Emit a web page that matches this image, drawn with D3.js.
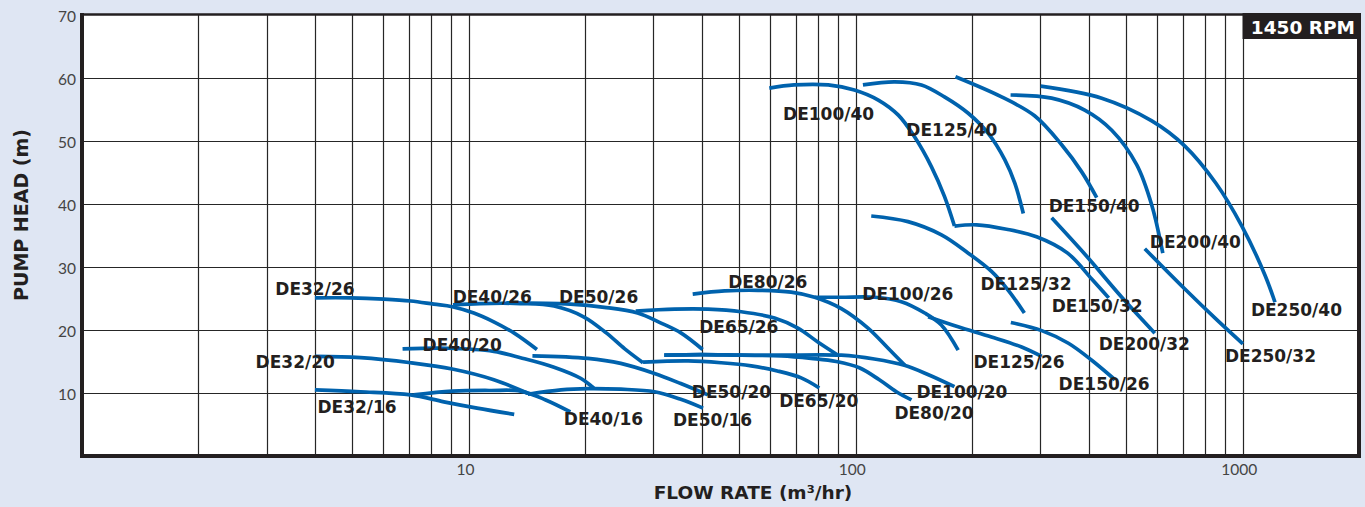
<!DOCTYPE html>
<html><head><meta charset="utf-8">
<script src="https://cdn.jsdelivr.net/npm/d3@7"></script>
<style>
html,body{margin:0;padding:0;background:#dfe6f3;}
svg{display:block;}
</style></head>
<body><svg id="chart" width="1365" height="507"></svg>
<script>
// ---------- DATA (flow m3/hr, head m) ----------
const xTickLabels = [10, 100, 1000];
const yTickLabels = [10, 20, 30, 40, 50, 60, 70];
const xGridFlows = [2,3,4,5,6,7,8,9,10,20,30,40,50,60,70,80,90,100,200,300,400,500,600,700,800,900,1000];
const yGridHeads = [10, 20, 30, 40, 50, 60];

const DE32_16 = [[4.0,10.5],[5.25,10.2],[7.07,9.7],[8.62,8.6],[10.5,7.6],[13.1,6.6]];
const DE32_20 = [[4.0,15.8],[5.25,15.6],[7.07,14.8],[9.06,13.8],[11.6,12.1],[14.2,9.95]];
const DE32_26 = [[4.0,25.1],[4.94,25.1],[6.03,24.9],[7.07,24.6],[8.12,24.1],[9.06,23.7],[10.3,22.7],[11.6,21.3],[13.1,19.5],[15.0,16.9]];
const DE40_16 = [[7.2,9.7],[9.06,10.3],[11.4,10.4],[13.6,10.3],[15.8,8.9],[18.3,7.0]];
const DE40_20 = [[6.74,17.0],[8.8,17.1],[11.6,16.6],[13.6,15.6],[16.6,14.1],[19.5,12.3],[21.1,10.7]];
const DE40_26 = [[9.1,24.0],[10.7,24.2],[13.6,24.2],[16.6,23.8],[19.8,22.1],[22.7,19.5],[25.3,17.0],[28.2,14.8]];
const DE50_16 = [[14.2,9.8],[17.3,10.5],[20.3,10.7],[24.7,10.6],[30.2,10.2],[35.3,9.0],[40.3,7.6]];
const DE50_20 = [[14.6,15.9],[20.3,15.5],[24.7,14.7],[30.2,13.1],[35.3,11.5],[41.5,9.7]];
const DE50_26 = [[12.5,24.3],[18.3,24.1],[22.4,23.6],[27.3,22.7],[31.4,21.1],[35.4,19.5],[40.2,16.9]];
const DE65_20 = [[28.2,14.9],[36.9,15.1],[44.9,14.8],[53.7,14.3],[62.7,13.5],[72.3,12.4],[80.5,10.8]];
const DE65_26 = [[27.0,23.0],[34.0,23.3],[41.5,23.3],[50.6,22.9],[61.7,21.9],[70.9,20.3],[79.8,18.1],[90.0,16.0]];
const DE80_20 = [[32,16.0],[39.8,16.1],[50.6,16.0],[64.2,15.9],[76.7,15.5],[89.1,15.0],[102.2,14.0],[115.1,12.1],[127.4,10.2],[139.4,8.9]];
const DE80_26 = [[37.9,25.7],[45.8,26.2],[55.9,26.3],[68.1,26.0],[78.3,25.2],[91.8,23.4],[107.6,20.3],[121.3,17.1],[134,14.4]];
const DE100_20 = [[32,16.0],[39.8,16.1],[50.6,16.0],[64.2,16.0],[91.8,16.0],[111.7,15.4],[133.6,14.4],[154.2,12.9],[180,11.0]];
const DE100_26 = [[78.3,25.2],[91.8,25.2],[111.9,25.2],[131.2,24.5],[150.8,22.7],[166.5,20.8],[184,16.8]];
const DE100_40 = [[59.8,58.4],[69.3,58.9],[84.9,58.9],[99.2,58.1],[114.4,56.5],[128.9,54.1],[141.8,50.7],[157.0,45.9],[169.6,41.2],[180.0,36.5]];
const DE125_26 = [[153.9,22.1],[184,20.5],[224.4,18.9],[268.5,17.3],[302.6,15.8]];
const DE125_32 = [[109.7,38.1],[136.5,37.2],[166.6,35.1],[195.4,32.2],[224.4,29.3],[248,26.3],[272.9,22.7]];
const DE125_40 = [[104.4,58.9],[126.1,59.4],[147.9,58.9],[169.6,57.0],[195.4,54.4],[220.1,51.2],[243.0,47.0],[257.8,43.3],[271.2,38.5]];
const DE150_26 = [[251.8,21.2],[302.6,19.9],[354.7,17.9],[407.5,15.2],[468,12.1]];
const DE150_32 = [[180,36.5],[205.3,36.7],[245.5,36.0],[293.5,34.8],[353.1,32.2],[407.5,28.1],[450.8,25.1]];
const DE150_40 = [[181.1,60.2],[238.3,57.0],[290.0,54.0],[340.7,49.4],[383.9,45.1],[419.8,41.0]];
const DE200_32 = [[321,37.8],[395.4,31.7],[487.3,25.2],[593.1,19.5]];
const DE200_40 = [[251.4,57.3],[321.0,56.8],[390.8,54.9],[459.1,51.7],[532.8,46.2],[582.6,39.8],[622.1,32.2]];
const DE250_32 = [[558.8,32.9],[709.5,26.5],[858.6,21.6],[1002,17.8]];
const DE250_40 = [[300.6,58.7],[432.5,56.8],[582.6,53.2],[709.5,49.2],[853.5,43.3],[996,36.5],[1143,28.7],[1213,24.4]];

// label names and their anchor (left edge flow, baseline head)
const labelNames = ["DE32/26","DE32/20","DE32/16","DE40/20","DE40/26","DE50/26","DE80/26","DE65/26","DE40/16","DE50/16","DE50/20","DE65/20","DE100/26","DE100/20","DE80/20","DE125/26","DE125/32","DE150/32","DE150/26","DE200/32","DE250/32","DE250/40","DE200/40","DE150/40","DE125/40","DE100/40"];
const labelFlow  = [3.16,2.81,4.06,7.59,9.08,17.1,46.8,39.4,17.6,33.7,37.7,63.4,104,143.5,125.9,201.6,210.2,321,334.6,424.9,900.4,1051,575.7,315.3,135.2,64.9];
const labelHead  = [25.6,14.0,6.8,16.7,24.3,24.3,26.7,19.5,4.9,4.8,9.2,7.8,24.8,9.2,5.9,14.0,26.3,22.9,10.5,16.8,14.9,22.2,33.0,38.7,50.8,53.3];

const series = [DE32_16,DE32_20,DE32_26,DE40_16,DE40_20,DE40_26,DE50_16,DE50_20,DE50_26,
  DE65_20,DE65_26,DE80_20,DE80_26,DE100_20,DE100_26,DE100_40,DE125_26,DE125_32,DE125_40,
  DE150_26,DE150_32,DE150_40,DE200_32,DE200_40,DE250_32,DE250_40];

// ---------- CHART ----------
const W = 1365, H = 507;
const L = 82, R = 1359, T = 15, B = 456;
const x = d3.scaleLog().domain([1, 2000]).range([L, R]);
const y = d3.scaleLinear().domain([0, 70]).range([B, T]);
const svg = d3.select('#chart');

svg.append('rect').attr('width', W).attr('height', H).attr('fill', '#dfe6f3');
svg.append('rect').attr('x', L).attr('y', T).attr('width', R - L).attr('height', B - T).attr('fill', '#ffffff');

const grid = svg.append('g').attr('stroke', '#262626').attr('stroke-width', 1.2);
grid.selectAll('line.v').data(xGridFlows).join('line')
  .attr('x1', d => Math.round(x(d)) + 0.5).attr('x2', d => Math.round(x(d)) + 0.5).attr('y1', T).attr('y2', B);
grid.selectAll('line.h').data(yGridHeads).join('line').attr('class','h')
  .attr('x1', L).attr('x2', R).attr('y1', d => Math.round(y(d)) + 0.5).attr('y2', d => Math.round(y(d)) + 0.5);

const line = d3.line().x(d => x(d[0])).y(d => y(d[1])).curve(d3.curveCatmullRom.alpha(0.5));
svg.append('g').selectAll('path').data(series).join('path')
  .attr('d', line).attr('fill', 'none').attr('stroke', '#0062ad').attr('stroke-width', 3.7);

svg.append('g').selectAll('text').data(labelNames).join('text')
  .attr('x', (d, i) => x(labelFlow[i])).attr('y', (d, i) => y(labelHead[i]))
  .attr('font-family', 'DejaVu Sans').attr('font-weight', 'bold').attr('font-size', 17)
  .attr('fill', '#231f20').text(d => d);

// frame
svg.append('line').attr('x1', L - 2).attr('x2', R + 2).attr('y1', T - 0.5).attr('y2', T - 0.5).attr('stroke', '#231f20').attr('stroke-width', 2.5);
svg.append('line').attr('x1', L).attr('x2', L).attr('y1', T - 2).attr('y2', B + 2).attr('stroke', '#231f20').attr('stroke-width', 4);
svg.append('line').attr('x1', R).attr('x2', R).attr('y1', T - 2).attr('y2', B + 2).attr('stroke', '#231f20').attr('stroke-width', 4);
svg.append('line').attr('x1', L - 2).attr('x2', R + 2).attr('y1', B).attr('y2', B).attr('stroke', '#231f20').attr('stroke-width', 4);

// RPM box
svg.append('rect').attr('x', x(1000)).attr('y', T - 2).attr('width', R - x(1000)).attr('height', 26).attr('fill', '#231f20');
svg.append('text').attr('x', R - 4).attr('y', 34).attr('text-anchor', 'end')
  .attr('font-family', 'DejaVu Sans').attr('font-weight', 'bold').attr('font-size', 18.5)
  .attr('fill', '#ffffff').text('1450 RPM');

// axes
const yAxis = svg.append('g').attr('transform', `translate(${L},0)`)
  .call(d3.axisLeft(y).tickValues(yTickLabels).tickSize(0).tickPadding(6));
yAxis.select('.domain').remove();
yAxis.selectAll('text').attr('font-family', 'Lato').attr('font-size', 15.5).attr('fill', '#444').attr('dy', '0.42em');

const xAxis = svg.append('g').attr('transform', `translate(0,${B})`)
  .call(d3.axisBottom(x).tickValues(xTickLabels).tickFormat(d3.format('d')).tickSize(0).tickPadding(8));
xAxis.select('.domain').remove();
xAxis.selectAll('text').attr('font-family', 'Lato').attr('font-size', 15.5).attr('fill', '#444').attr('dx', '-0.25em');

svg.append('text').attr('transform', 'translate(28,215) rotate(-90)').attr('text-anchor', 'middle')
  .attr('font-family', 'DejaVu Sans').attr('font-weight', 'bold').attr('font-size', 19)
  .attr('fill', '#231f20').text('PUMP HEAD (m)');
svg.append('text').attr('x', 753).attr('y', 499).attr('text-anchor', 'middle')
  .attr('font-family', 'DejaVu Sans').attr('font-weight', 'bold').attr('font-size', 18.5)
  .attr('fill', '#231f20').text('FLOW RATE (m³/hr)');
</script>
</body></html>
